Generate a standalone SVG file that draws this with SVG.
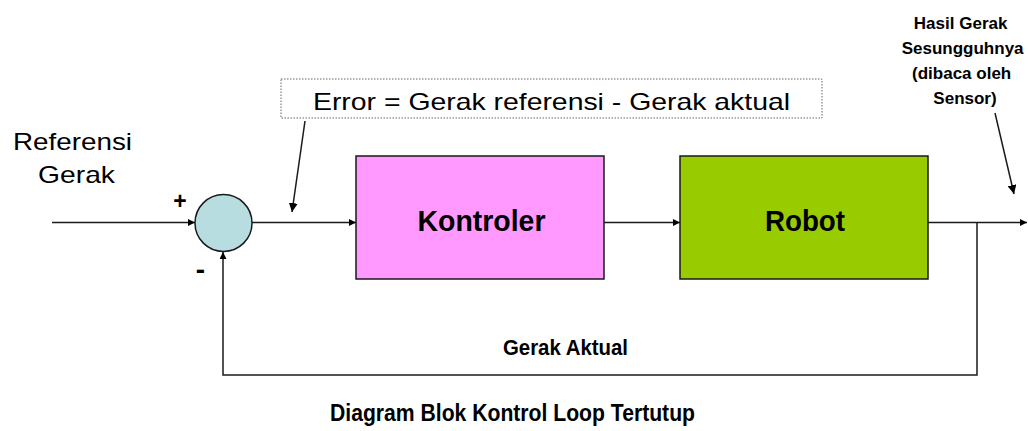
<svg xmlns="http://www.w3.org/2000/svg" width="1028" height="431" viewBox="0 0 1028 431">
<style>
.ln{fill:none;stroke:#1a1a1a;stroke-width:1.5}
.box{stroke:#1a1a1a;stroke-width:1.5}
.t{font-family:"Liberation Sans",Arial,sans-serif;fill:#000}
.b{font-weight:bold}
</style>
<defs>
<marker id="ah" viewBox="0 0 10 10" refX="10" refY="5" markerWidth="7" markerHeight="7" markerUnits="userSpaceOnUse" orient="auto">
<path d="M0,0 L10,5 L0,10 z" fill="#000"/>
</marker>
<marker id="ah2" viewBox="0 0 10 10" refX="10" refY="5" markerWidth="9" markerHeight="9" markerUnits="userSpaceOnUse" orient="auto">
<path d="M0,0 L10,5 L0,10 z" fill="#000"/>
</marker>
</defs>
<rect width="1028" height="431" fill="#fff"/>

<g id="connectors">
<line class="ln" x1="52" y1="222.5" x2="195" y2="222.5" marker-end="url(#ah)"/>
<line class="ln" x1="252" y1="222.5" x2="356" y2="222.5" marker-end="url(#ah)"/>
<line class="ln" x1="604" y1="222.5" x2="680" y2="222.5" marker-end="url(#ah)"/>
<line class="ln" x1="928" y1="222.5" x2="1027" y2="222.5" marker-end="url(#ah)"/>
<polyline class="ln" points="977,222.5 977,375 223,375 223,252" marker-end="url(#ah)"/>
<line class="ln" x1="305" y1="121" x2="292" y2="212" marker-end="url(#ah2)"/>
<line class="ln" x1="995" y1="113" x2="1014" y2="194" marker-end="url(#ah2)"/>
</g>

<g id="sum">
<circle cx="223.5" cy="223" r="28.5" fill="#b7dde0" class="box"/>
<text class="t b" x="180" y="208.5" font-size="23" text-anchor="middle">+</text>
<text class="t b" x="200.5" y="279" font-size="28" text-anchor="middle">-</text>
</g>

<g id="kontroler">
<rect class="box" x="356" y="156" width="248" height="123" fill="#ff99ff"/>
<text class="t b" x="481.5" y="230.5" font-size="30" text-anchor="middle" textLength="128" lengthAdjust="spacingAndGlyphs">Kontroler</text>
</g>

<g id="robot">
<rect class="box" x="680" y="156" width="248" height="123" fill="#99cc00"/>
<text class="t b" x="805" y="230.5" font-size="30" text-anchor="middle" textLength="80" lengthAdjust="spacingAndGlyphs">Robot</text>
</g>

<g id="error-label">
<rect x="281" y="79" width="541" height="39" fill="#fff" stroke="#666" stroke-width="1" stroke-dasharray="1.5 1.5"/>
<text class="t" x="313" y="109.5" font-size="24" textLength="477" lengthAdjust="spacingAndGlyphs">Error = Gerak referensi - Gerak aktual</text>
</g>

<g id="referensi">
<text class="t" x="13" y="150" font-size="24" textLength="119" lengthAdjust="spacingAndGlyphs">Referensi</text>
<text class="t" x="38" y="183" font-size="24" textLength="77" lengthAdjust="spacingAndGlyphs">Gerak</text>
</g>

<g id="hasil">
<text class="t b" font-size="17" text-anchor="middle">
<tspan x="963" y="29">Hasil Gerak</tspan>
<tspan x="965" y="54">Sesungguhnya</tspan>
<tspan x="964" y="79">(dibaca oleh</tspan>
<tspan x="965" y="104">Sensor)</tspan>
</text>
</g>

<g id="gerak-aktual">
<text class="t b" x="503" y="355" font-size="22" textLength="125" lengthAdjust="spacingAndGlyphs">Gerak Aktual</text>
</g>

<g id="title">
<text class="t b" x="330" y="421" font-size="23" textLength="365" lengthAdjust="spacingAndGlyphs">Diagram Blok Kontrol Loop Tertutup</text>
</g>
</svg>
